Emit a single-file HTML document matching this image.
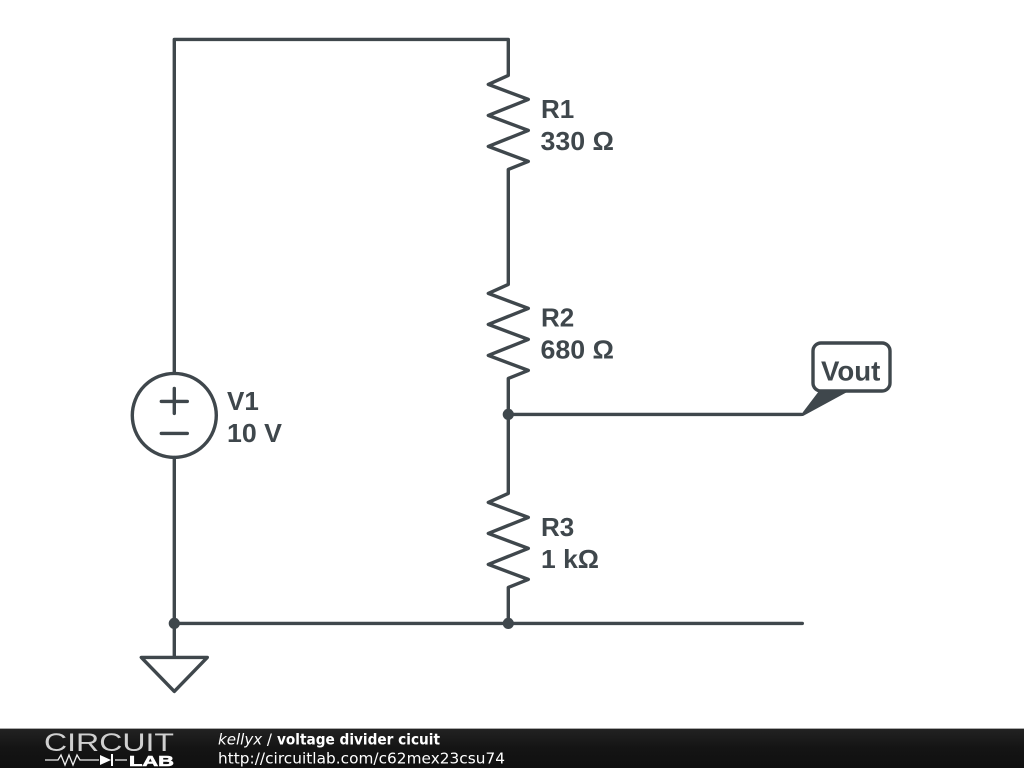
<!DOCTYPE html>
<html>
<head>
<meta charset="utf-8">
<style>
html,body{margin:0;padding:0;background:#fff;width:1024px;height:768px;overflow:hidden}
svg{display:block;position:absolute;left:0;top:0}
.l{font-family:"Liberation Sans",sans-serif;font-weight:bold;font-size:26px;fill:#3f474c}
.f{font-family:"DejaVu Sans",sans-serif;font-size:15.3px;fill:#fff}
</style>
</head>
<body>
<svg width="1024" height="768" viewBox="0 0 1024 768" xmlns="http://www.w3.org/2000/svg">
<defs>
<linearGradient id="g" x1="0" y1="0" x2="0" y2="1">
<stop offset="0" stop-color="#222"/>
<stop offset="0.5" stop-color="#141414"/>
<stop offset="1" stop-color="#101010"/>
</linearGradient>
</defs>
<g fill="none" stroke="#3f474c" stroke-width="3.4" stroke-linejoin="round" stroke-linecap="round">
<g transform="translate(0.3,0.4)">
<path d="M174 372V39H508V75L488 84L528 99L488 115L528 130L488 146L528 161L508 169V284L488 293L528 308L488 324L528 339L488 355L528 370L508 378V493L488 502L528 517L488 533L528 548L488 564L528 579L508 587V623"/>
<path d="M174 457V657"/>
<path d="M174 623H802"/>
<path d="M508 414H801"/>
<circle cx="174" cy="415" r="42"/>
<path d="M161 401H187M174 388V413M161 433H187"/>
<path d="M141 657H207L174 691Z" fill="#fff"/>
</g>
<rect x="813" y="343" width="77" height="48" rx="8" ry="8" fill="#fff"/>
</g>
<path d="M800 416L819 391H849L803 416Z" fill="#3f474c"/>
<circle cx="174.3" cy="623.4" r="5.6" fill="#3f474c"/>
<circle cx="508.3" cy="623.4" r="5.6" fill="#3f474c"/>
<circle cx="508.3" cy="414.4" r="5.6" fill="#3f474c"/>
<text class="l" x="541" y="118">R1</text>
<text class="l" x="540.5" y="150" textLength="73.5" lengthAdjust="spacingAndGlyphs">330 Ω</text>
<text class="l" x="541" y="326.5">R2</text>
<text class="l" x="540.5" y="358.5" textLength="73.5" lengthAdjust="spacingAndGlyphs">680 Ω</text>
<text class="l" x="541" y="536">R3</text>
<text class="l" x="541" y="568" textLength="58" lengthAdjust="spacingAndGlyphs">1 kΩ</text>
<text class="l" x="227" y="410">V1</text>
<text class="l" x="227" y="442" textLength="55" lengthAdjust="spacingAndGlyphs">10 V</text>
<text class="l" x="821" y="380.5" style="font-size:27.6px">Vout</text>
<rect x="0" y="729" width="1024" height="39" fill="url(#g)"/>
<rect x="0" y="728" width="1024" height="1" fill="#aaa"/>
<text x="44" y="751" textLength="130" lengthAdjust="spacingAndGlyphs" font-family="Liberation Sans, sans-serif" font-size="25" fill="#d0d0d0">CIRCUIT</text>
<path d="M45 760H58L61 755L65 765L69 755L73 765L77 755L80 760H99M115 760H127" fill="none" stroke="#eee" stroke-width="1.3"/>
<path d="M100 755L111 760L100 765Z" fill="#fff"/>
<path d="M112 754V766" stroke="#fff" stroke-width="2"/>
<text x="129" y="766" textLength="45" lengthAdjust="spacingAndGlyphs" font-family="Liberation Sans, sans-serif" font-size="15" font-weight="bold" fill="#fff" stroke="#fff" stroke-width="0.6">LAB</text>
<text class="f" x="218" y="744.5" textLength="54" lengthAdjust="spacingAndGlyphs"><tspan font-style="italic">kellyx</tspan> /</text>
<text class="f" x="277" y="744.5" font-weight="bold" textLength="163" lengthAdjust="spacingAndGlyphs">voltage divider cicuit</text>
<text class="f" x="218" y="763.5" textLength="287" lengthAdjust="spacing">http://circuitlab.com/c62mex23csu74</text>
</svg>
</body>
</html>
